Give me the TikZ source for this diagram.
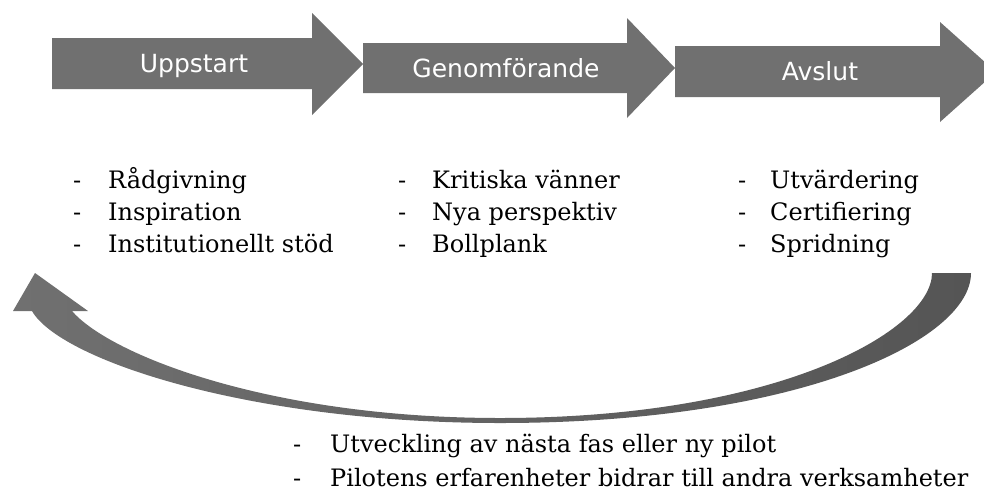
\documentclass[tikz,border=0pt]{standalone}
\usepackage{fontspec}
\setmainfont{DejaVu Serif}
\newfontfamily\phasefont{DejaVu Sans}
\usepackage{tikz}
\usetikzlibrary{positioning}
\definecolor{phasegray}{HTML}{707070}
\definecolor{loopdark}{HTML}{555555}
\tikzstyle{phase} = [fill=phasegray]
\tikzstyle{phaselabel} = [text=white,font=\phasefont\fontsize{25}{30}\selectfont,anchor=base,inner sep=0pt]
\tikzstyle{listitem} = [font=\fontsize{24}{30}\selectfont,anchor=base west,inner sep=0pt]
\newcommand{\punkt}[2][27pt]{\llap{-\hspace{#1}}#2}

\begin{document}
\begin{tikzpicture}[x=1pt,y=-1pt]
      \useasboundingbox (0,0) rectangle (984,491);
      \clip (0,0) rectangle (984,491);

      % the three phases
      \fill[phase] (52,38) -- (312,38) -- (312,13) -- (363,64) -- (312,115) -- (312,89) -- (52,89) -- cycle;
      \fill[phase] (363,43) -- (627,43) -- (627,18) -- (675,68) -- (627,118) -- (627,93) -- (363,93) -- cycle;
      \fill[phase] (675,46) -- (940,46) -- (940,22) -- (996,72) -- (940,122) -- (940,97) -- (675,97) -- cycle;

      \node (uppstart)[phaselabel] at (194,72) {Uppstart};
      \node (genomf)[phaselabel] at (506,77) {Genomförande};
      \node (avslut)[phaselabel] at (820,80) {Avslut};

      % lists under each phase
      \node (radg)[listitem] at (108,188) {\punkt{Rådgivning}};
      \node (insp)[listitem] at (108,220) {\punkt{Inspiration}};
      \node (inst)[listitem] at (108,252) {\punkt{Institutionellt stöd}};

      \node (krit)[listitem] at (432,188) {\punkt[26pt]{Kritiska vänner}};
      \node (nya)[listitem] at (432,220) {\punkt[26pt]{Nya perspektiv}};
      \node (boll)[listitem] at (432,252) {\punkt[26pt]{Bollplank}};

      \node (utv)[listitem] at (770,188) {\punkt[24pt]{Utvärdering}};
      \node (cert)[listitem] at (770,220) {\punkt[24pt]{Certifiering}};
      \node (sprid)[listitem] at (770,252) {\punkt[24pt]{Spridning}};

      % feedback loop
      \shade[left color=phasegray,right color=loopdark]
            (971,273) .. controls (971,340) and (800,423) .. (500,423)
            .. controls (250,423) and (60,360) .. (32,311)
            -- (13,311) -- (35,273) -- (88,311) -- (72,311)
            .. controls (110,355) and (270,418) .. (500,418)
            .. controls (780,418) and (932,330) .. (932,273)
            -- cycle;

      \node (nasta)[listitem] at (330,452) {\punkt[29pt]{Utveckling av nästa fas eller ny pilot}};
      \node (erfar)[listitem] at (330,486) {\punkt[29pt]{Pilotens erfarenheter bidrar till andra verksamheter}};
\end{tikzpicture}
\end{document}
